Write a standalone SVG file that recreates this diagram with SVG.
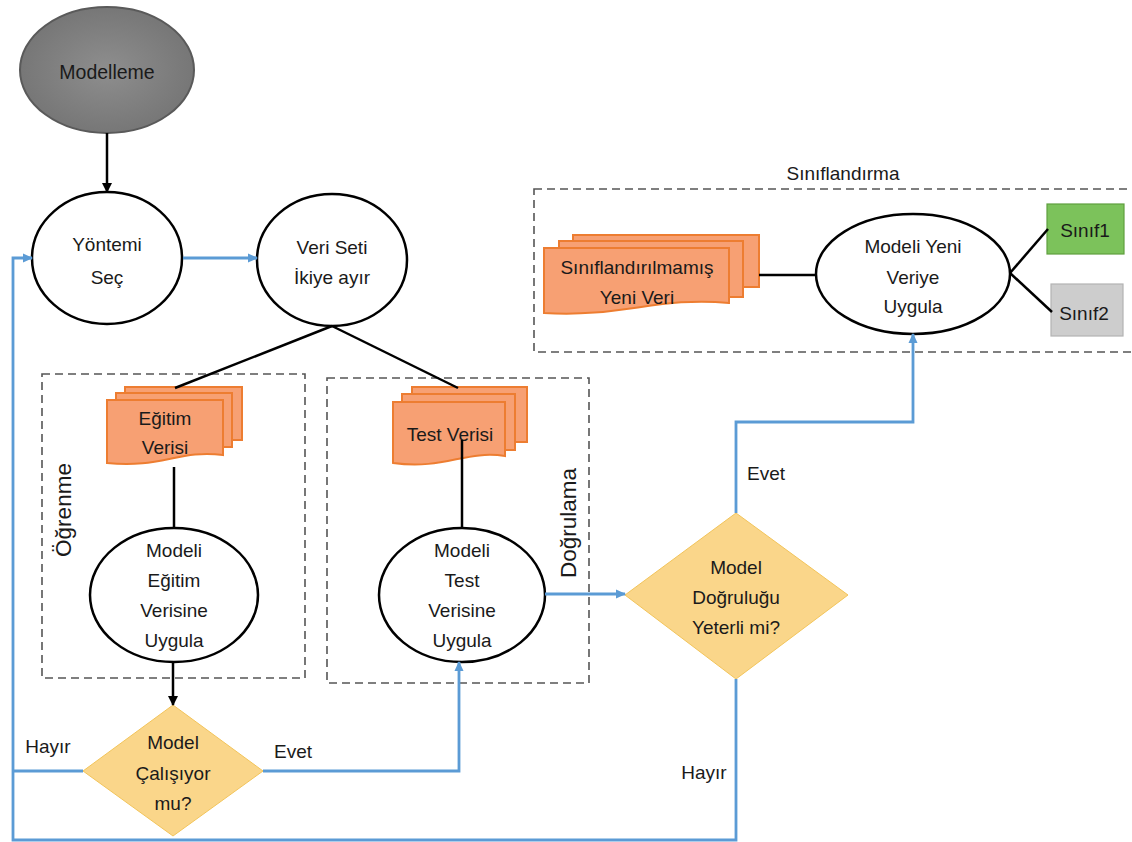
<svg xmlns="http://www.w3.org/2000/svg" width="1132" height="842" viewBox="0 0 1132 842">
<defs>
<style>
text{font-family:"Liberation Sans",Arial,sans-serif;font-size:19px;fill:#1a1a1a;text-anchor:middle}
.ell{fill:#fff;stroke:#000;stroke-width:2.5}
.doc{fill:#f7a073;stroke:#ed7d31;stroke-width:2}
.dia{fill:#fad68a;stroke:#f2c45a;stroke-width:1}
.dash{fill:none;stroke:#555;stroke-width:1.6;stroke-dasharray:8 5}
.blk{fill:none;stroke:#000;stroke-width:2.5}
.blu{fill:none;stroke:#5b9bd5;stroke-width:2.8}
.rot{font-size:22.5px}
</style>
<radialGradient id="gg" cx="0.5" cy="0.5" r="0.6">
<stop offset="0" stop-color="#8e8e8e"/>
<stop offset="1" stop-color="#727272"/>
</radialGradient>
<marker id="ab" markerWidth="10" markerHeight="10" refX="9" refY="5" orient="auto" markerUnits="userSpaceOnUse">
<path d="M0,0 L10,5 L0,10 Z" fill="#000"/>
</marker>
<marker id="au" markerWidth="10" markerHeight="10" refX="9" refY="5" orient="auto" markerUnits="userSpaceOnUse">
<path d="M0,0.5 L10,5 L0,9.5 Z" fill="#5b9bd5"/>
</marker>
</defs>
<rect width="1132" height="842" fill="#fff"/>

<g id="group-ogrenme">
<rect class="dash" x="42" y="374" width="263" height="304"/>
<text class="rot" transform="translate(63,510) rotate(-90)" y="8">Öğrenme</text>
</g>
<g id="group-dogrulama">
<rect class="dash" x="327" y="378" width="262" height="305"/>
<text class="rot" transform="translate(568,523) rotate(-90)" y="8">Doğrulama</text>
</g>
<g id="group-siniflandirma">
<rect class="dash" x="534" y="189" width="620" height="163"/>
<text x="843" y="180">Sınıflandırma</text>
</g>

<g id="modelleme">
<ellipse cx="107" cy="70" rx="87" ry="63" fill="url(#gg)" stroke="#5a5a5a" stroke-width="2"/>
<text x="107" y="79" style="font-size:19.5px">Modelleme</text>
</g>
<g id="yontemi-sec">
<ellipse class="ell" cx="107" cy="258" rx="75" ry="66"/>
<text x="107" y="251">Yöntemi</text>
<text x="107" y="284">Seç</text>
</g>
<g id="veri-seti">
<ellipse class="ell" cx="332" cy="260" rx="75" ry="66"/>
<text x="332" y="254">Veri Seti</text>
<text x="332" y="284">İkiye ayır</text>
</g>
<g id="egitim-verisi">
<rect class="doc" x="125" y="387" width="117" height="53"/>
<rect class="doc" x="116" y="393" width="116" height="54"/>
<path class="doc" d="M107,400 H223 V455 C180,449 160,469 107,463 Z"/>
<text x="165" y="425">Eğitim</text>
<text x="165" y="454">Verisi</text>
</g>
<g id="test-verisi">
<rect class="doc" x="412" y="387" width="115" height="55"/>
<rect class="doc" x="402" y="394" width="113" height="56"/>
<path class="doc" d="M393,402 H505 V456 C465,450 445,470 393,463 Z"/>
<text x="450" y="441">Test Verisi</text>
</g>
<g id="modeli-egitim">
<ellipse class="ell" cx="174" cy="595" rx="84" ry="67"/>
<text x="174" y="557">Modeli</text>
<text x="174" y="587">Eğitim</text>
<text x="174" y="617">Verisine</text>
<text x="174" y="647">Uygula</text>
</g>
<g id="modeli-test">
<ellipse class="ell" cx="462" cy="595" rx="83" ry="67"/>
<text x="462" y="557">Modeli</text>
<text x="462" y="587">Test</text>
<text x="462" y="617">Verisine</text>
<text x="462" y="647">Uygula</text>
</g>
<g id="model-calisiyor">
<polygon class="dia" points="173,705 263,771 173,836 83,771"/>
<text x="173" y="749">Model</text>
<text x="173" y="780">Çalışıyor</text>
<text x="173" y="810">mu?</text>
</g>
<g id="model-dogrulugu">
<polygon class="dia" points="736,513 848,595 736,679 625,595"/>
<text x="736" y="574">Model</text>
<text x="736" y="604">Doğruluğu</text>
<text x="736" y="634">Yeterli mi?</text>
</g>
<g id="yeni-veri">
<rect class="doc" x="573" y="235" width="186" height="52"/>
<rect class="doc" x="559" y="241" width="184" height="56"/>
<path class="doc" d="M544,248 H729 V303 C660,296 620,318 544,313 Z"/>
<text x="637" y="274">Sınıflandırılmamış</text>
<text x="637" y="304">Yeni Veri</text>
</g>
<g id="modeli-yeni">
<ellipse class="ell" cx="913" cy="274" rx="97" ry="60"/>
<text x="913" y="253">Modeli Yeni</text>
<text x="913" y="284">Veriye</text>
<text x="913" y="313">Uygula</text>
</g>
<g id="sinif1">
<rect x="1047" y="204" width="77" height="50" fill="#7cc25b" stroke="#5f9f3f" stroke-width="1.2"/>
<text x="1085" y="237">Sınıf1</text>
</g>
<g id="sinif2">
<rect x="1051" y="284" width="72" height="52" fill="#cdcdcd" stroke="#b3b3b3" stroke-width="1.2"/>
<text x="1084" y="320">Sınıf2</text>
</g>

<g id="connectors">
<path class="blk" d="M107,133 V192" marker-end="url(#ab)"/>
<path class="blk" d="M332,326 L175,388"/>
<path class="blk" d="M332,326 L458,388"/>
<path class="blk" d="M174,467 V528"/>
<path class="blk" d="M462,440 V528"/>
<path class="blk" d="M173,662 V705" marker-end="url(#ab)"/>
<path class="blk" d="M759,275 H816"/>
<path class="blk" d="M1010,273 L1048,229"/>
<path class="blk" d="M1010,273 L1052,312"/>
<path class="blu" d="M183,258 H257" marker-end="url(#au)"/>
<path class="blu" d="M736,679 V840 H13 V258 H32" marker-end="url(#au)"/>
<path class="blu" d="M83,771 H13"/>
<path class="blu" d="M263,771 H459 V662" marker-end="url(#au)"/>
<path class="blu" d="M545,594 H625" marker-end="url(#au)"/>
<path class="blu" d="M736,513 V422 H913 V334" marker-end="url(#au)"/>
<text x="48" y="753">Hayır</text>
<text x="293" y="758">Evet</text>
<text x="766" y="480">Evet</text>
<text x="704" y="779">Hayır</text>
</g>
</svg>
